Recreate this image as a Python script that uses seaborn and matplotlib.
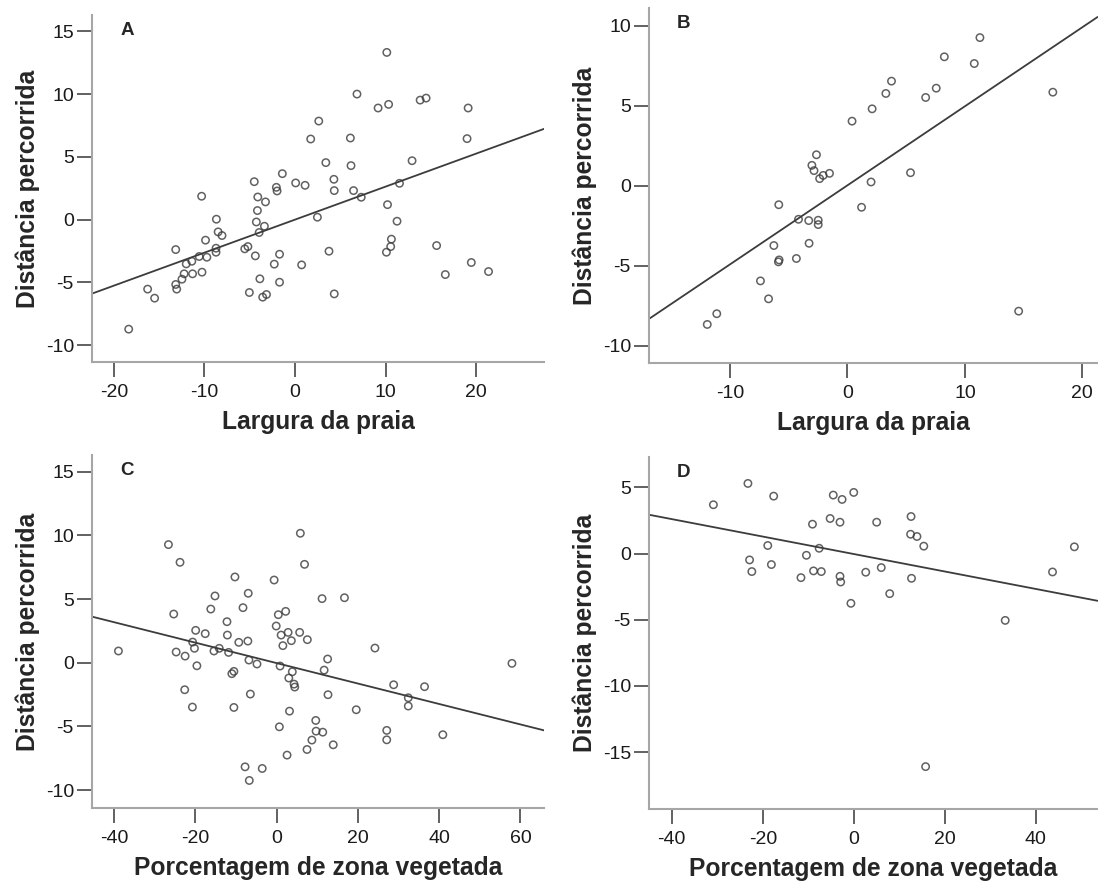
import matplotlib
matplotlib.use("Agg")
import matplotlib.pyplot as plt
import seaborn as sns
import pandas as pd
import numpy as np

# Panel A: beach width vs distance travelled
a_x = [10.14, 6.85, 9.18, 10.34, 13.82, 14.48, 19.12, 2.63, 1.74, 6.12, 19.0, 3.41, 6.19, 12.93,
       -1.39, -4.49, 0.08, 1.12, 4.30, -2.05, -1.97, 4.34, 6.47, 7.32, 11.54, -10.3, -4.10, -3.25,
       -4.14, 10.22, 2.48, -8.67, -4.26, -3.37, 11.27, -8.48, -8.05, -3.95, -9.87, 10.65, 10.57,
       10.1, 15.64, 3.76, -13.16, -8.71, -8.71, -5.54, -5.19, -1.70, -4.37, -10.57, -9.72, -11.38,
       -12.0, -2.28, 0.74, 19.47, -10.26, 21.37, 16.6, -11.3, -12.23, -12.47, -13.16, -13.05,
       -3.87, -1.70, -16.26, -15.49, -5.03, -3.56, -3.14, 4.34, -18.35]
a_y = [13.32, 10.0, 8.89, 9.18, 9.52, 9.68, 8.89, 7.85, 6.42, 6.50, 6.45, 4.54, 4.30, 4.69,
       3.66, 3.02, 2.92, 2.73, 3.21, 2.57, 2.28, 2.31, 2.31, 1.78, 2.89, 1.86, 1.80, 1.41,
       0.72, 1.19, 0.19, 0.03, -0.19, -0.53, -0.13, -0.98, -1.27, -1.03, -1.64, -1.56, -2.15,
       -2.60, -2.07, -2.52, -2.39, -2.28, -2.60, -2.33, -2.15, -2.76, -2.89, -2.94, -3.0, -3.32,
       -3.53, -3.55, -3.61, -3.42, -4.19, -4.14, -4.38, -4.32, -4.32, -4.75, -5.17, -5.54,
       -4.72, -4.99, -5.54, -6.26, -5.81, -6.18, -5.97, -5.92, -8.73]

# Panel B: beach width vs distance travelled
b_x = [11.28, 8.25, 10.8, 3.75, 7.56, 3.27, 6.66, 17.49, 2.10, 0.39, -2.64, -3.03, -2.85, -1.53,
       -2.07, -2.37, 5.37, 2.01, -5.85, 1.20, -4.17, -3.30, -2.49, -2.49, -6.27, -3.27, -4.35,
       -5.82, -5.88, -7.41, -6.72, -11.13, -11.94, 14.58]
b_y = [9.25, 8.05, 7.63, 6.53, 6.09, 5.76, 5.51, 5.84, 4.80, 4.03, 1.93, 1.27, 0.94, 0.77,
       0.64, 0.44, 0.81, 0.23, -1.19, -1.35, -2.10, -2.18, -2.16, -2.43, -3.74, -3.60, -4.55,
       -4.64, -4.76, -5.95, -7.07, -8.0, -8.67, -7.84]

# Panel C: vegetated zone percentage vs distance travelled
c_x = [5.85, -26.6, -23.75, 6.88, -10.24, -0.60, -6.97, -15.15, 11.19, 16.7, -25.3, -16.18, -8.26,
       0.43, 2.24, -12.2, -0.09, -19.9, -17.55, -12.1, 1.12, 2.84, 5.68, 3.64, 7.57, -7.06, -9.29,
       -20.65, -20.2, -14.1, -15.4, -11.8, 1.55, 24.2, -38.9, -24.7, -22.5, -6.8, -4.82, -19.6,
       0.86, 12.56, 11.7, 3.87, -10.5, -11.0, 57.9, 3.01, 4.30, 4.47, 28.8, 36.4, -22.6, -6.45,
       12.65, 32.4, 32.4, -20.7, -10.5, 3.18, 19.6, 9.64, 0.69, 27.1, 9.72, 11.36, 40.9, 27.1,
       8.69, 13.94, 7.49, 2.58, -7.75, -3.53, -6.71]
c_y = [10.16, 9.27, 7.88, 7.72, 6.73, 6.49, 5.45, 5.24, 5.03, 5.10, 3.82, 4.21, 4.32, 3.77, 4.03,
       3.22, 2.88, 2.54, 2.28, 2.17, 2.17, 2.38, 2.38, 1.73, 1.81, 1.70, 1.60, 1.62, 1.13, 1.13,
       0.92, 0.81, 1.34, 1.15, 0.92, 0.84, 0.52, 0.21, -0.10, -0.24, -0.26, 0.29, -0.58, -0.71,
       -0.68, -0.86, -0.05, -1.20, -1.68, -1.91, -1.73, -1.88, -2.12, -2.46, -2.51, -2.75, -3.40,
       -3.48, -3.51, -3.80, -3.69, -4.53, -5.03, -5.31, -5.37, -5.45, -5.65, -6.05, -6.07, -6.44,
       -6.81, -7.25, -8.17, -8.30, -9.24]

# Panel D: vegetated zone percentage vs distance travelled
d_x = [-23.26, -17.6, -30.85, -4.50, -2.56, 0.0, 12.6, -5.19, -3.02, -9.07, 5.04, 12.5, 13.9,
       -18.9, -7.6, 15.4, 48.5, -22.9, -10.4, -18.1, -22.4, -8.84, -7.13, 6.05, 2.64, -11.6,
       -3.02, -2.87, 12.7, 43.7, 7.91, -0.62, 33.3, 15.8]
d_y = [5.30, 4.34, 3.69, 4.42, 4.09, 4.62, 2.80, 2.65, 2.37, 2.22, 2.37, 1.46, 1.29, 0.61, 0.40,
       0.56, 0.51, -0.48, -0.13, -0.83, -1.36, -1.31, -1.36, -1.06, -1.41, -1.82, -1.72, -2.15,
       -1.87, -1.39, -3.03, -3.76, -5.05, -16.1]

xlabel_praia = "Largura da praia"
xlabel_veg = "Porcentagem de zona vegetada"
ylabel = "Distância percorrida"

panels = [
    # letter, x, y, xlabel, xlim, ylim, xticks, yticks, rect
    ("A", a_x, a_y, xlabel_praia, (-22.4, 27.5), (-11.35, 16.3),
     [-20, -10, 0, 10, 20], [-10, -5, 0, 5, 10, 15], [0.0838, 0.5923, 0.4117, 0.3908]),
    ("B", b_x, b_y, xlabel_praia, (-16.9, 21.3), (-11.08, 11.1),
     [-10, 0, 10, 20], [-10, -5, 0, 5, 10], [0.5911, 0.5912, 0.4085, 0.3998]),
    ("C", c_x, c_y, xlabel_veg, (-45.4, 65.8), (-11.4, 16.3),
     [-40, -20, 0, 20, 40, 60], [-10, -5, 0, 5, 10, 15], [0.0838, 0.0901, 0.4117, 0.3975]),
    ("D", d_x, d_y, xlabel_veg, (-45.0, 53.6), (-19.3, 7.3),
     [-40, -20, 0, 20, 40], [-15, -10, -5, 0, 5], [0.5911, 0.0890, 0.4085, 0.3964]),
]

sns.set_style("ticks")
plt.rcParams["font.family"] = ["Liberation Sans", "DejaVu Sans"]
plt.rcParams["axes.unicode_minus"] = False

fig = plt.figure(figsize=(10.98, 8.88), dpi=100)

spine_col = "#a6a6a6"
tick_col = "#555555"

for letter, xs, ys, xlab, xlim, ylim, xt, yt, rect in panels:
    ax = fig.add_axes(rect)
    ax.set_xlim(*xlim)
    ax.set_ylim(*ylim)
    df = pd.DataFrame({"x": xs, "y": ys})
    sns.regplot(data=df, x="x", y="y", ax=ax, ci=None, truncate=False,
                scatter_kws=dict(s=28, facecolors="none", edgecolors="#3a3a3a", linewidths=1.1),
                line_kws=dict(color="#3c3c3c", linewidth=1.3))
    ax.set_xlim(*xlim)
    ax.set_ylim(*ylim)
    ax.set_xticks(xt)
    ax.set_yticks(yt)
    sns.despine(ax=ax)
    for side in ["left", "bottom"]:
        ax.spines[side].set_color(spine_col)
        ax.spines[side].set_linewidth(1.5)
    ax.tick_params(axis="both", length=11, width=1.3, color=tick_col,
                   labelsize=14, labelcolor="#1a1a1a")
    ax.tick_params(axis="x", pad=5)
    ax.tick_params(axis="y", pad=2)
    ax.set_xlabel(xlab, fontsize=17.7, fontweight="bold", labelpad=6)
    ax.set_ylabel(ylabel, fontsize=17.7, fontweight="bold", labelpad=4)
    ax.text(0.062, 0.955, letter, transform=ax.transAxes, fontsize=13.5,
            fontweight="bold", ha="left", va="center")

fig.savefig("out.png", dpi=100)
